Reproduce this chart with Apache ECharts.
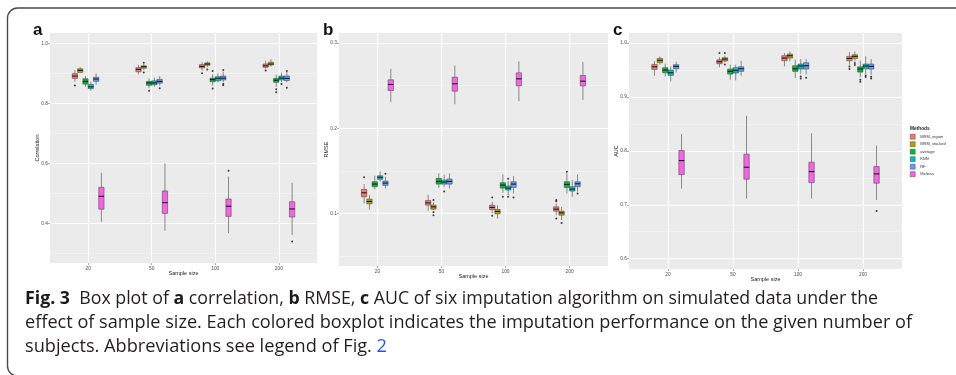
<!DOCTYPE html>
<html>
<head>
<meta charset="utf-8">
<script src="https://cdn.jsdelivr.net/npm/echarts@6.0.0/dist/echarts.min.js"></script>
<style>
  html, body { margin: 0; padding: 0; background: #fff; }
  #chart { width: 956px; height: 375px; }
</style>
</head>
<body>
<div id="chart"></div>
<script>
// ---- data ----
const sampleSizes = ["20", "50", "100", "200"];
const methods = ["MRM_region", "MRM_stacked", "average", "KNN", "RF", "Melissa"];

// [lower whisker, q1, median, q3, upper whisker] per sample size, one row per method
const corrStats = [
  [[0.872, 0.883, 0.891, 0.899, 0.911], [0.897, 0.905, 0.913, 0.919, 0.928], [0.909, 0.918, 0.923, 0.929, 0.937], [0.915, 0.920, 0.925, 0.931, 0.942]],
  [[0.900, 0.903, 0.910, 0.915, 0.920], [0.911, 0.917, 0.922, 0.925, 0.931], [0.920, 0.927, 0.931, 0.935, 0.940], [0.922, 0.928, 0.931, 0.937, 0.947]],
  [[0.855, 0.864, 0.873, 0.882, 0.891], [0.851, 0.860, 0.868, 0.873, 0.883], [0.859, 0.872, 0.879, 0.884, 0.897], [0.855, 0.870, 0.877, 0.883, 0.895]],
  [[0.842, 0.849, 0.855, 0.863, 0.872], [0.855, 0.862, 0.868, 0.875, 0.886], [0.870, 0.875, 0.883, 0.889, 0.900], [0.870, 0.878, 0.884, 0.891, 0.902]],
  [[0.862, 0.873, 0.881, 0.887, 0.900], [0.859, 0.867, 0.873, 0.880, 0.890], [0.870, 0.878, 0.884, 0.891, 0.905], [0.870, 0.876, 0.883, 0.891, 0.905]],
  [[0.405, 0.447, 0.490, 0.520, 0.569], [0.375, 0.433, 0.469, 0.508, 0.600], [0.367, 0.423, 0.457, 0.481, 0.556], [0.361, 0.421, 0.448, 0.472, 0.535]]
];
// [sample size index, value]
const corrOutliers = [
  [[0, 0.859], [2, 0.900], [3, 0.909]],
  [[1, 0.935], [1, 0.903], [2, 0.913]],
  [[1, 0.842], [2, 0.908], [2, 0.849], [3, 0.847], [3, 0.837]],
  [[3, 0.864]],
  [[1, 0.850], [2, 0.864], [2, 0.860], [2, 0.911], [3, 0.908], [3, 0.852]],
  [[2, 0.575], [3, 0.339]]
];

const rmseStats = [
  [[0.1118, 0.1196, 0.1243, 0.1282, 0.1345], [0.1031, 0.1098, 0.1125, 0.1153, 0.1220], [0.1000, 0.1047, 0.1071, 0.1098, 0.1137], [0.0980, 0.1027, 0.1051, 0.1078, 0.1118]],
  [[0.1047, 0.1114, 0.1141, 0.1169, 0.1216], [0.1040, 0.1051, 0.1078, 0.1098, 0.1130], [0.0941, 0.0996, 0.1024, 0.1047, 0.1098], [0.0922, 0.0980, 0.1008, 0.1027, 0.1078]],
  [[0.1282, 0.1314, 0.1345, 0.1373, 0.1443], [0.1302, 0.1345, 0.1376, 0.1412, 0.1471], [0.1243, 0.1298, 0.1333, 0.1361, 0.1459], [0.1235, 0.1306, 0.1341, 0.1373, 0.1470]],
  [[0.1373, 0.1400, 0.1424, 0.1443, 0.1494], [0.1310, 0.1345, 0.1369, 0.1392, 0.1455], [0.1216, 0.1275, 0.1298, 0.1322, 0.1380], [0.1196, 0.1263, 0.1286, 0.1314, 0.1392]],
  [[0.1294, 0.1330, 0.1357, 0.1380, 0.1431], [0.1294, 0.1345, 0.1376, 0.1404, 0.1470], [0.1235, 0.1306, 0.1345, 0.1373, 0.1439], [0.1255, 0.1314, 0.1349, 0.1373, 0.1459]],
  [[0.2306, 0.2443, 0.2514, 0.2569, 0.2698], [0.2282, 0.2435, 0.2522, 0.2600, 0.2737], [0.2318, 0.2498, 0.2580, 0.2651, 0.2784], [0.2333, 0.2498, 0.2553, 0.2620, 0.2776]]
];
const rmseOutliers = [
  [[0, 0.1424], [2, 0.1188], [2, 0.0973], [3, 0.1145], [3, 0.1157], [3, 0.0941]],
  [[1, 0.1157], [1, 0.1016], [1, 0.0980], [3, 0.0890]],
  [[2, 0.1196], [3, 0.1490]],
  [[1, 0.1259], [2, 0.1408], [2, 0.1196]],
  [[0, 0.1467], [2, 0.1188], [3, 0.1235]],
  []
];

const aucStats = [
  [[0.9393, 0.9511, 0.9560, 0.9604, 0.9666], [0.9548, 0.9616, 0.9653, 0.9690, 0.9740], [0.9567, 0.9672, 0.9721, 0.9765, 0.9814], [0.9598, 0.9672, 0.9715, 0.9752, 0.9833]],
  [[0.9598, 0.9635, 0.9678, 0.9715, 0.9752], [0.9640, 0.9666, 0.9703, 0.9727, 0.9765], [0.9660, 0.9721, 0.9765, 0.9796, 0.9845], [0.9660, 0.9715, 0.9752, 0.9783, 0.9845]],
  [[0.9381, 0.9449, 0.9498, 0.9542, 0.9616], [0.9319, 0.9424, 0.9474, 0.9517, 0.9598], [0.9350, 0.9474, 0.9523, 0.9579, 0.9690], [0.9368, 0.9461, 0.9517, 0.9560, 0.9672]],
  [[0.9288, 0.9400, 0.9449, 0.9498, 0.9567], [0.9306, 0.9443, 0.9492, 0.9542, 0.9598], [0.9430, 0.9517, 0.9573, 0.9610, 0.9703], [0.9430, 0.9523, 0.9573, 0.9610, 0.9752]],
  [[0.9455, 0.9523, 0.9567, 0.9598, 0.9653], [0.9393, 0.9474, 0.9523, 0.9560, 0.9672], [0.9412, 0.9517, 0.9579, 0.9635, 0.9703], [0.9412, 0.9517, 0.9567, 0.9610, 0.9703]],
  [[0.7300, 0.7560, 0.7820, 0.8006, 0.8310], [0.7115, 0.7474, 0.7697, 0.7938, 0.8650], [0.7115, 0.7412, 0.7616, 0.7789, 0.8328], [0.7090, 0.7400, 0.7573, 0.7709, 0.8100]]
];
const aucOutliers = [
  [[1, 0.9814], [3, 0.9567], [3, 0.9517]],
  [[1, 0.9814], [1, 0.9600], [3, 0.9628], [3, 0.9591]],
  [[3, 0.9319], [3, 0.9282]],
  [[2, 0.9380], [2, 0.9340], [3, 0.9400], [3, 0.9368]],
  [[2, 0.9356], [3, 0.9375], [3, 0.9344]],
  [[3, 0.6886]]
];

const corrTicks = [0.4, 0.6, 0.8, 1.0];
const corrMinor = [0.3, 0.5, 0.7, 0.9];
const rmseTicks = [0.1, 0.2, 0.3];
const rmseMinor = [0.05, 0.15, 0.25];
const aucTicks = [0.6, 0.7, 0.8, 0.9, 1.0];
const aucMinor = [0.65, 0.75, 0.85, 0.95];

// ---- styling / layout ----
const COLORS = ["#F8766D", "#B79F00", "#00BA38", "#00BFC4", "#619CFF", "#F564E3"];
const AXIS_FONT = "Liberation Sans";
const CAPTION_FONT = "Open Sans";
const DODGE = 0.5 / methods.length; // width of one dodged box, in category units

const panels = [
  { label: "a", stats: corrStats, outliers: corrOutliers, yName: "Correlation", ticks: corrTicks, minor: corrMinor,
    min: 0.2677, max: 1.0344, left: 50, width: 267, height: 230, nameGap: 10, labelX: 33 },
  { label: "b", stats: rmseStats, outliers: rmseOutliers, yName: "RMSE", ticks: rmseTicks, minor: rmseMinor,
    min: 0.0384, max: 0.3118, left: 339, width: 269, height: 233, nameGap: 10, labelX: 323 },
  { label: "c", stats: aucStats, outliers: aucOutliers, yName: "AUC", ticks: aucTicks, minor: aucMinor,
    min: 0.5809, max: 1.0186, left: 629, width: 273, height: 236, nameGap: 10, labelX: 613 }
];

function makeBox(m) {
  return function (params, api) {
    const x = api.value(0) + (m - 2.5) * DODGE;
    const lo = api.coord([x, api.value(1)]);
    const q1 = api.coord([x, api.value(2)]);
    const md = api.coord([x, api.value(3)]);
    const q3 = api.coord([x, api.value(4)]);
    const hi = api.coord([x, api.value(5)]);
    const w = api.size([DODGE, 0])[0];
    const whisker = { stroke: "#6f6f6f", lineWidth: 0.8 };
    return {
      type: "group",
      children: [
        { type: "line", shape: { x1: lo[0], y1: lo[1], x2: q1[0], y2: q1[1] }, style: whisker },
        { type: "line", shape: { x1: q3[0], y1: q3[1], x2: hi[0], y2: hi[1] }, style: whisker },
        { type: "rect", shape: { x: q3[0] - w / 2, y: q3[1], width: w, height: q1[1] - q3[1] },
          style: { fill: api.visual("color"), stroke: "#3a3a3a", lineWidth: 0.5 } },
        { type: "line", shape: { x1: md[0] - w / 2, y1: md[1], x2: md[0] + w / 2, y2: md[1] },
          style: { stroke: "#1a1a1a", lineWidth: 1.1 } }
      ]
    };
  };
}

const grid = [], xAxis = [], yAxis = [], series = [];
panels.forEach((p, pi) => {
  grid.push({ left: p.left, top: 33, width: p.width, height: p.height, show: true,
    backgroundColor: "#ebebeb", borderWidth: 0, outerBoundsMode: "none" });
  xAxis.push({
    type: "value", gridIndex: pi, min: -0.6, max: 3.6,
    name: "Sample size", nameLocation: "middle", nameGap: 7, nameMoveOverlap: false,
    nameTextStyle: { fontSize: 5.5, color: "#1a1a1a", fontFamily: AXIS_FONT },
    axisLine: { show: false, onZero: false },
    axisTick: { show: true, length: 2, customValues: [0, 1, 2, 3], lineStyle: { color: "#555", width: 0.5 } },
    axisLabel: { customValues: [0, 1, 2, 3], formatter: v => sampleSizes[Math.round(v)],
      fontSize: 4.8, color: "#4d4d4d", margin: 3, fontFamily: AXIS_FONT },
    splitLine: { show: true, lineStyle: { color: "#ffffff", width: 1 } }
  });
  yAxis.push({
    type: "value", gridIndex: pi, min: p.min, max: p.max, position: "left",
    name: p.yName, nameLocation: "middle", nameGap: p.nameGap, nameMoveOverlap: false,
    nameTextStyle: { fontSize: 5.5, color: "#1a1a1a", fontFamily: AXIS_FONT },
    axisLine: { show: false, onZero: false },
    axisTick: { show: true, length: 2, customValues: p.ticks, lineStyle: { color: "#555", width: 0.5 } },
    axisLabel: { customValues: p.ticks, formatter: v => v.toFixed(1),
      fontSize: 4.8, color: "#4d4d4d", margin: 2, fontFamily: AXIS_FONT },
    splitLine: { show: true, lineStyle: { color: "#ffffff", width: 1 } }
  });
  yAxis.push({
    type: "value", gridIndex: pi, min: p.min, max: p.max, position: "left",
    axisLine: { show: false, onZero: false },
    axisTick: { show: false, customValues: p.minor },
    axisLabel: { show: false, customValues: p.minor },
    splitLine: { show: true, lineStyle: { color: "#f7f7f7", width: 0.6 } }
  });
  methods.forEach((name, m) => {
    series.push({
      type: "custom", name, xAxisIndex: pi, yAxisIndex: 2 * pi,
      itemStyle: { color: COLORS[m] }, renderItem: makeBox(m), z: 2, silent: true,
      data: p.stats[m].map((s, i) => [i].concat(s))
    });
    series.push({
      type: "scatter", name, xAxisIndex: pi, yAxisIndex: 2 * pi,
      symbolSize: 2, itemStyle: { color: "#111" }, z: 3, silent: true,
      data: p.outliers[m].map(([i, v]) => [i + (m - 2.5) * DODGE, v])
    });
  });
});

// ---- caption, each line fitted to the width it has in the original ----
const captionLines = [
  [["b", "Fig. 3"], ["n", "  Box plot of "], ["b", "a"], ["n", " correlation, "], ["b", "b"], ["n", " RMSE, "], ["b", "c"],
   ["n", " AUC of six imputation algorithm on simulated data under the"]],
  [["n", "effect of sample size. Each colored boxplot indicates the imputation performance on the given number of"]],
  [["n", "subjects. Abbreviations see legend of Fig. "], ["l", "2"]]
];
const captionEnds = [878, 912, 387];
const CAP_SIZE = 17.5;
const ctx = document.createElement("canvas").getContext("2d");
function segWidth(kind, text) {
  ctx.font = (kind === "b" ? "bold " : "") + CAP_SIZE + 'px "' + CAPTION_FONT + '"';
  return ctx.measureText(text).width;
}
const capRich = {
  b: { fontWeight: "bold", fontSize: CAP_SIZE, fontFamily: CAPTION_FONT, fill: "#1a1a1a" },
  l: { fontSize: CAP_SIZE, fontFamily: CAPTION_FONT, fill: "#2457d6" }
};
const captionGraphics = captionLines.map((segs, i) => {
  const natural = segs.reduce((a, [k, t]) => a + segWidth(k, t), 0);
  return {
    type: "text", x: 25, y: 299 + i * 24, scaleX: (captionEnds[i] - 25) / natural,
    style: {
      text: segs.map(([k, t]) => (k === "n" ? t : "{" + k + "|" + t + "}")).join(""),
      rich: capRich, fontSize: CAP_SIZE, fontFamily: CAPTION_FONT, fill: "#231f20", verticalAlign: "middle"
    }
  };
});

const option = {
  animation: false,
  backgroundColor: "#ffffff",
  grid, xAxis, yAxis, series,
  legend: {
    data: methods, orient: "vertical", left: 910, top: 134, padding: 0,
    itemWidth: 5, itemHeight: 5, itemGap: 2.1, icon: "rect", selectedMode: false,
    itemStyle: { borderColor: "#333", borderWidth: 0.4 },
    textStyle: { fontSize: 4, color: "#333", fontFamily: AXIS_FONT }
  },
  graphic: [
    { type: "rect", shape: { x: 7.5, y: 8, width: 1000, height: 368, r: 10 },
      style: { fill: "none", stroke: "#4a4a4a", lineWidth: 1.4 }, silent: true },
    { type: "text", x: 910, y: 128.5,
      style: { text: "Methods", fontSize: 4.8, fontWeight: "bold", fontFamily: AXIS_FONT, fill: "#1a1a1a", verticalAlign: "middle" } }
  ].concat(
    panels.map(p => ({ type: "text", x: p.labelX, y: 30,
      style: { text: p.label, fontSize: 17, fontWeight: "bold", fontFamily: AXIS_FONT, fill: "#111", verticalAlign: "middle" } })),
    captionGraphics
  )
};

const chart = echarts.init(document.getElementById("chart"));
chart.setOption(option);
</script>
</body>
</html>
